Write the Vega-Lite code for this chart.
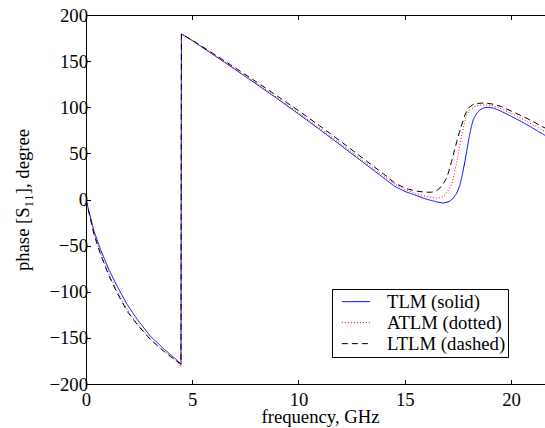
{
  "$schema": "https://vega.github.io/schema/vega-lite/v6.json",
  "width": 459,
  "height": 369,
  "autosize": {"type": "none"},
  "padding": {"left": 86, "top": 15, "right": 0, "bottom": 44},
  "background": "white",
  "config": {
    "font": "Liberation Serif",
    "view": {"stroke": "black", "strokeWidth": 1},
    "axis": {
      "grid": false,
      "domainColor": "black",
      "tickColor": "black",
      "labelColor": "black",
      "titleColor": "black",
      "labelFont": "Liberation Serif",
      "titleFont": "Liberation Serif",
      "labelFontSize": 18.7,
      "titleFontSize": 18.7,
      "titleFontWeight": "normal",
      "labelFlush": false,
      "tickSize": -4.5
    },
    "legend": {
      "orient": "none",
      "legendX": 246,
      "legendY": 274,
      "strokeColor": "black",
      "fillColor": "white",
      "padding": 2.4,
      "cornerRadius": 0,
      "symbolType": "stroke",
      "symbolSize": 784,
      "clipHeight": 20.5,
      "rowPadding": 0,
      "symbolOffset": 7,
      "labelOffset": 16.6,
      "labelFont": "Liberation Serif",
      "labelFontSize": 18.7,
      "labelColor": "black",
      "labelLimit": 0
    }
  },
  "data": {
    "values": [
      {"model": "TLM (solid)", "f": 0, "phase": 0},
      {"model": "TLM (solid)", "f": 0.15, "phase": -14},
      {"model": "TLM (solid)", "f": 0.38, "phase": -34.6},
      {"model": "TLM (solid)", "f": 0.69, "phase": -54.5},
      {"model": "TLM (solid)", "f": 1.08, "phase": -76.2},
      {"model": "TLM (solid)", "f": 1.47, "phase": -94.2},
      {"model": "TLM (solid)", "f": 1.94, "phase": -114},
      {"model": "TLM (solid)", "f": 2.42, "phase": -130.3},
      {"model": "TLM (solid)", "f": 3.04, "phase": -148.4},
      {"model": "TLM (solid)", "f": 3.67, "phase": -162.1},
      {"model": "TLM (solid)", "f": 4.2, "phase": -172.5},
      {"model": "TLM (solid)", "f": 4.47, "phase": -178.5},
      {"model": "TLM (solid)", "f": 4.49, "phase": 179.5},
      {"model": "TLM (solid)", "f": 5, "phase": 172.3},
      {"model": "TLM (solid)", "f": 6, "phase": 156.8},
      {"model": "TLM (solid)", "f": 7, "phase": 141.2},
      {"model": "TLM (solid)", "f": 8, "phase": 125.4},
      {"model": "TLM (solid)", "f": 9, "phase": 109.3},
      {"model": "TLM (solid)", "f": 10, "phase": 92.8},
      {"model": "TLM (solid)", "f": 11, "phase": 75.8},
      {"model": "TLM (solid)", "f": 12, "phase": 58.5},
      {"model": "TLM (solid)", "f": 13, "phase": 41},
      {"model": "TLM (solid)", "f": 14, "phase": 23.5},
      {"model": "TLM (solid)", "f": 14.54, "phase": 14.1},
      {"model": "TLM (solid)", "f": 15, "phase": 8.8},
      {"model": "TLM (solid)", "f": 15.5, "phase": 4.7},
      {"model": "TLM (solid)", "f": 16, "phase": 0.5},
      {"model": "TLM (solid)", "f": 16.5, "phase": -2.6},
      {"model": "TLM (solid)", "f": 16.82, "phase": -3.9},
      {"model": "TLM (solid)", "f": 17.1, "phase": -2.2},
      {"model": "TLM (solid)", "f": 17.29, "phase": 1.5},
      {"model": "TLM (solid)", "f": 17.45, "phase": 7},
      {"model": "TLM (solid)", "f": 17.6, "phase": 15.9},
      {"model": "TLM (solid)", "f": 17.72, "phase": 28},
      {"model": "TLM (solid)", "f": 17.83, "phase": 41.2},
      {"model": "TLM (solid)", "f": 17.93, "phase": 54},
      {"model": "TLM (solid)", "f": 18.02, "phase": 66.5},
      {"model": "TLM (solid)", "f": 18.12, "phase": 77.5},
      {"model": "TLM (solid)", "f": 18.22, "phase": 86.4},
      {"model": "TLM (solid)", "f": 18.38, "phase": 93},
      {"model": "TLM (solid)", "f": 18.54, "phase": 97.2},
      {"model": "TLM (solid)", "f": 18.75, "phase": 99.6},
      {"model": "TLM (solid)", "f": 18.93, "phase": 100},
      {"model": "TLM (solid)", "f": 19.2, "phase": 99},
      {"model": "TLM (solid)", "f": 19.55, "phase": 95.5},
      {"model": "TLM (solid)", "f": 20, "phase": 90.3},
      {"model": "TLM (solid)", "f": 20.5, "phase": 84.3},
      {"model": "TLM (solid)", "f": 21, "phase": 77.8},
      {"model": "TLM (solid)", "f": 21.6, "phase": 69.5},

      {"model": "ATLM (dotted)", "f": 0, "phase": 0},
      {"model": "ATLM (dotted)", "f": 0.15, "phase": -15},
      {"model": "ATLM (dotted)", "f": 0.38, "phase": -37},
      {"model": "ATLM (dotted)", "f": 0.69, "phase": -58.3},
      {"model": "ATLM (dotted)", "f": 1.08, "phase": -80.8},
      {"model": "ATLM (dotted)", "f": 1.47, "phase": -99.8},
      {"model": "ATLM (dotted)", "f": 1.94, "phase": -119.5},
      {"model": "ATLM (dotted)", "f": 2.42, "phase": -135},
      {"model": "ATLM (dotted)", "f": 3.04, "phase": -151.5},
      {"model": "ATLM (dotted)", "f": 3.67, "phase": -164.5},
      {"model": "ATLM (dotted)", "f": 4.2, "phase": -174.5},
      {"model": "ATLM (dotted)", "f": 4.47, "phase": -181},
      {"model": "ATLM (dotted)", "f": 4.49, "phase": 179.5},
      {"model": "ATLM (dotted)", "f": 5, "phase": 172.4},
      {"model": "ATLM (dotted)", "f": 6, "phase": 157.2},
      {"model": "ATLM (dotted)", "f": 7, "phase": 141.8},
      {"model": "ATLM (dotted)", "f": 8, "phase": 126.2},
      {"model": "ATLM (dotted)", "f": 9, "phase": 110.3},
      {"model": "ATLM (dotted)", "f": 10, "phase": 94},
      {"model": "ATLM (dotted)", "f": 11, "phase": 77.3},
      {"model": "ATLM (dotted)", "f": 12, "phase": 60.2},
      {"model": "ATLM (dotted)", "f": 13, "phase": 42.8},
      {"model": "ATLM (dotted)", "f": 14, "phase": 25.5},
      {"model": "ATLM (dotted)", "f": 14.54, "phase": 16.6},
      {"model": "ATLM (dotted)", "f": 15, "phase": 10.8},
      {"model": "ATLM (dotted)", "f": 15.48, "phase": 6.9},
      {"model": "ATLM (dotted)", "f": 16, "phase": 3.3},
      {"model": "ATLM (dotted)", "f": 16.5, "phase": 1.5},
      {"model": "ATLM (dotted)", "f": 16.7, "phase": 2},
      {"model": "ATLM (dotted)", "f": 16.9, "phase": 5.1},
      {"model": "ATLM (dotted)", "f": 17.05, "phase": 10},
      {"model": "ATLM (dotted)", "f": 17.2, "phase": 15.9},
      {"model": "ATLM (dotted)", "f": 17.33, "phase": 28},
      {"model": "ATLM (dotted)", "f": 17.45, "phase": 41},
      {"model": "ATLM (dotted)", "f": 17.57, "phase": 56},
      {"model": "ATLM (dotted)", "f": 17.68, "phase": 70.1},
      {"model": "ATLM (dotted)", "f": 17.8, "phase": 82},
      {"model": "ATLM (dotted)", "f": 17.91, "phase": 91.8},
      {"model": "ATLM (dotted)", "f": 18.1, "phase": 97.5},
      {"model": "ATLM (dotted)", "f": 18.3, "phase": 100.8},
      {"model": "ATLM (dotted)", "f": 18.55, "phase": 102.3},
      {"model": "ATLM (dotted)", "f": 18.77, "phase": 102.6},
      {"model": "ATLM (dotted)", "f": 19.1, "phase": 102},
      {"model": "ATLM (dotted)", "f": 19.55, "phase": 98.3},
      {"model": "ATLM (dotted)", "f": 20, "phase": 93.5},
      {"model": "ATLM (dotted)", "f": 20.6, "phase": 86.4},
      {"model": "ATLM (dotted)", "f": 21.1, "phase": 80.2},
      {"model": "ATLM (dotted)", "f": 21.6, "phase": 73.5},

      {"model": "LTLM (dashed)", "f": 0, "phase": 0},
      {"model": "LTLM (dashed)", "f": 0.15, "phase": -15.5},
      {"model": "LTLM (dashed)", "f": 0.38, "phase": -38.2},
      {"model": "LTLM (dashed)", "f": 0.69, "phase": -59.9},
      {"model": "LTLM (dashed)", "f": 1.08, "phase": -82.7},
      {"model": "LTLM (dashed)", "f": 1.47, "phase": -101.4},
      {"model": "LTLM (dashed)", "f": 1.94, "phase": -121.3},
      {"model": "LTLM (dashed)", "f": 2.42, "phase": -135.8},
      {"model": "LTLM (dashed)", "f": 3.04, "phase": -152},
      {"model": "LTLM (dashed)", "f": 3.67, "phase": -164.7},
      {"model": "LTLM (dashed)", "f": 4.2, "phase": -174},
      {"model": "LTLM (dashed)", "f": 4.47, "phase": -178.5},
      {"model": "LTLM (dashed)", "f": 4.49, "phase": 179.5},
      {"model": "LTLM (dashed)", "f": 5, "phase": 172.7},
      {"model": "LTLM (dashed)", "f": 6, "phase": 158},
      {"model": "LTLM (dashed)", "f": 7, "phase": 143},
      {"model": "LTLM (dashed)", "f": 8, "phase": 127.8},
      {"model": "LTLM (dashed)", "f": 9, "phase": 112.2},
      {"model": "LTLM (dashed)", "f": 10, "phase": 96.3},
      {"model": "LTLM (dashed)", "f": 11, "phase": 79.8},
      {"model": "LTLM (dashed)", "f": 12, "phase": 62.8},
      {"model": "LTLM (dashed)", "f": 13, "phase": 45.2},
      {"model": "LTLM (dashed)", "f": 14, "phase": 27.8},
      {"model": "LTLM (dashed)", "f": 14.54, "phase": 17.7},
      {"model": "LTLM (dashed)", "f": 15, "phase": 12.6},
      {"model": "LTLM (dashed)", "f": 15.17, "phase": 11.2},
      {"model": "LTLM (dashed)", "f": 15.5, "phase": 9.3},
      {"model": "LTLM (dashed)", "f": 15.95, "phase": 7.9},
      {"model": "LTLM (dashed)", "f": 16.26, "phase": 7.9},
      {"model": "LTLM (dashed)", "f": 16.5, "phase": 9.6},
      {"model": "LTLM (dashed)", "f": 16.65, "phase": 12.3},
      {"model": "LTLM (dashed)", "f": 16.85, "phase": 18.5},
      {"model": "LTLM (dashed)", "f": 16.97, "phase": 23.2},
      {"model": "LTLM (dashed)", "f": 17.08, "phase": 31},
      {"model": "LTLM (dashed)", "f": 17.2, "phase": 41.2},
      {"model": "LTLM (dashed)", "f": 17.33, "phase": 52.5},
      {"model": "LTLM (dashed)", "f": 17.45, "phase": 62.9},
      {"model": "LTLM (dashed)", "f": 17.57, "phase": 72.5},
      {"model": "LTLM (dashed)", "f": 17.68, "phase": 81},
      {"model": "LTLM (dashed)", "f": 17.83, "phase": 91.5},
      {"model": "LTLM (dashed)", "f": 17.99, "phase": 99},
      {"model": "LTLM (dashed)", "f": 18.2, "phase": 102.8},
      {"model": "LTLM (dashed)", "f": 18.54, "phase": 104.4},
      {"model": "LTLM (dashed)", "f": 18.77, "phase": 104.6},
      {"model": "LTLM (dashed)", "f": 19.1, "phase": 103.6},
      {"model": "LTLM (dashed)", "f": 19.55, "phase": 100.8},
      {"model": "LTLM (dashed)", "f": 20, "phase": 96},
      {"model": "LTLM (dashed)", "f": 20.8, "phase": 87.4},
      {"model": "LTLM (dashed)", "f": 21.43, "phase": 79.6},
      {"model": "LTLM (dashed)", "f": 21.6, "phase": 77.5}
    ]
  },
  "layer": [
    {
      "mark": {"type": "line", "clip": true},
      "encoding": {
        "x": {
          "field": "f",
          "type": "quantitative",
          "scale": {"domain": [0, 21.6], "nice": false, "zero": false},
          "axis": {
            "orient": "bottom",
            "values": [0, 5, 10, 15, 20],
            "title": "frequency, GHz",
            "labelPadding": 11,
            "titlePadding": -2,
            "titleX": 234
          }
        },
        "y": {
          "field": "phase",
          "type": "quantitative",
          "scale": {"domain": [-200, 200], "nice": false, "zero": false},
          "axis": {
            "values": [-200, -150, -100, -50, 0, 50, 100, 150, 200],
            "title": "phase [S₁₁], degree",
            "labelPadding": 3,
            "titlePadding": 16
          }
        },
        "color": {
          "field": "model",
          "type": "nominal",
          "scale": {
            "domain": ["TLM (solid)", "ATLM (dotted)", "LTLM (dashed)"],
            "range": ["#0000ff", "#ff0000", "#000000"]
          },
          "legend": {"title": null, "labelExpr": "datum.label + '\u00a0\u2009'"}
        },
        "strokeDash": {
          "field": "model",
          "type": "nominal",
          "scale": {
            "domain": ["TLM (solid)", "ATLM (dotted)", "LTLM (dashed)"],
            "range": [[1, 0], [1, 2], [6, 4]]
          },
          "legend": {"title": null, "labelExpr": "datum.label + '\u00a0\u2009'"}
        },
        "strokeWidth": {
          "field": "model",
          "type": "nominal",
          "scale": {
            "domain": ["TLM (solid)", "ATLM (dotted)", "LTLM (dashed)"],
            "range": [1, 1, 1.5]
          },
          "legend": {"title": null, "labelExpr": "datum.label + '\u00a0\u2009'"}
        }
      }
    },
    {
      "mark": {"type": "line", "opacity": 0},
      "encoding": {
        "x": {
          "field": "f",
          "type": "quantitative",
          "axis": {
            "orient": "top",
            "values": [0, 5, 10, 15, 20],
            "labels": false,
            "title": null,
            "domain": false
          }
        },
        "y": {"field": "phase", "type": "quantitative", "axis": null}
      }
    }
  ],
  "resolve": {"axis": {"x": "independent", "y": "independent"}}
}
